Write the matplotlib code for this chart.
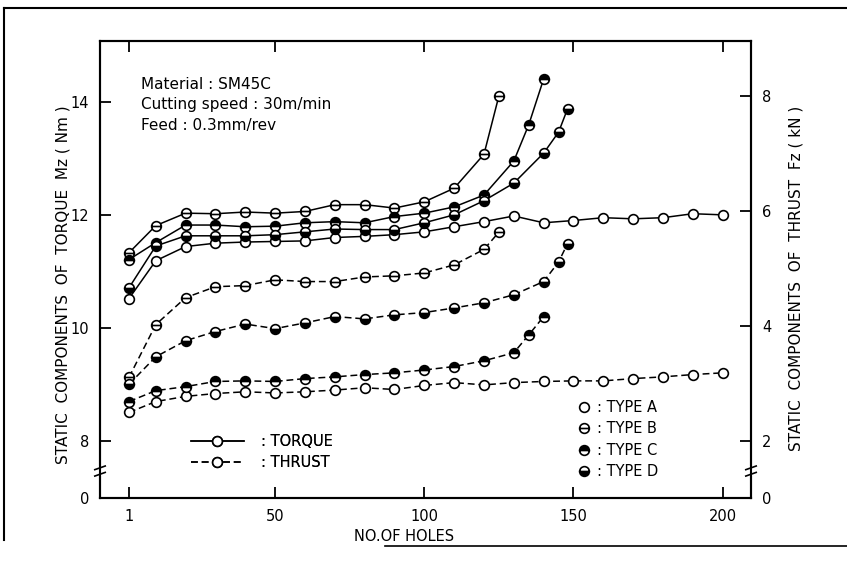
import matplotlib
matplotlib.use("Agg")
import matplotlib.pyplot as plt
from matplotlib.lines import Line2D
from matplotlib.path import Path

# number of holes for each tool type
holes_a = [1, 10, 20, 30, 40, 50, 60, 70, 80, 90, 100, 110, 120, 130, 140, 150, 160, 170, 180, 190, 200]
holes_b = [1, 10, 20, 30, 40, 50, 60, 70, 80, 90, 100, 110, 120, 125]
holes_c = [1, 10, 20, 30, 40, 50, 60, 70, 80, 90, 100, 110, 120, 130, 135, 140]
holes_d = [1, 10, 20, 30, 40, 50, 60, 70, 80, 90, 100, 110, 120, 130, 140, 145, 148]

# static torque Mz (Nm)
torque_a = [10.52, 11.19, 11.44, 11.50, 11.52, 11.53, 11.54, 11.60, 11.62, 11.65, 11.70,
            11.79, 11.88, 11.98, 11.86, 11.90, 11.95, 11.93, 11.95, 12.02, 12.00]
torque_b = [11.33, 11.81, 12.03, 12.02, 12.05, 12.03, 12.06, 12.18, 12.18, 12.12, 12.23,
            12.47, 13.07, 14.10]
torque_c = [11.21, 11.51, 11.82, 11.82, 11.79, 11.80, 11.86, 11.88, 11.86, 11.97, 12.03,
            12.14, 12.35, 12.95, 13.59, 14.40]
torque_d = [10.71, 11.45, 11.63, 11.63, 11.63, 11.65, 11.70, 11.75, 11.74, 11.74, 11.86,
            12.00, 12.25, 12.56, 13.09, 13.46, 13.87]

# static thrust Fz (kN)
thrust_a = [2.49, 2.68, 2.77, 2.82, 2.85, 2.83, 2.85, 2.88, 2.92, 2.89, 2.96, 3.01, 2.97,
            3.01, 3.03, 3.04, 3.04, 3.08, 3.11, 3.15, 3.18]
thrust_b = [3.10, 4.02, 4.49, 4.68, 4.70, 4.80, 4.77, 4.77, 4.85, 4.87, 4.92, 5.06, 5.33, 5.63]
thrust_c = [2.68, 2.87, 2.94, 3.03, 3.04, 3.03, 3.08, 3.11, 3.15, 3.18, 3.23, 3.29, 3.39,
            3.53, 3.84, 4.16]
thrust_d = [2.98, 3.46, 3.74, 3.90, 4.03, 3.95, 4.05, 4.16, 4.12, 4.19, 4.23, 4.31, 4.40,
            4.54, 4.77, 5.11, 5.43]

x_ticks = [1, 50, 100, 150, 200]
torque_ticks = [8, 10, 12, 14]
thrust_ticks = [2, 4, 6, 8]
type_labels = [": TYPE A", ": TYPE B", ": TYPE C", ": TYPE D"]

plt.rcParams["font.family"] = "DejaVu Sans"

# circle with a horizontal bar (type B)
bar_circle = Path.make_compound_path(
    Path.unit_circle(), Path([[-1.0, 0.0], [1.0, 0.0]], [Path.MOVETO, Path.LINETO]))

styles = {
    "A": dict(marker="o", markerfacecolor="white", fillstyle="full"),
    "B": dict(marker=bar_circle, markerfacecolor="white", fillstyle="full"),
    "C": dict(marker="o", fillstyle="top", markerfacecolor="black", markerfacecoloralt="white"),
    "D": dict(marker="o", fillstyle="bottom", markerfacecolor="black", markerfacecoloralt="white"),
}
mk = dict(color="black", markeredgecolor="black", markersize=7, markeredgewidth=1.2)
dash = (0, (4.5, 2.5))
lw = 1.1

fig = plt.figure(figsize=(8.47, 5.64), dpi=100)
ax = fig.add_axes([100 / 847, 66 / 564, 651 / 847, 457 / 564])
ax2 = ax.twinx()

ax.set_xlim(-8.7, 209.5)
ax.set_ylim(7.0, 15.07)
ax2.set_ylim(1.0, 8.96)

for key, xs, ys in [("A", holes_a, torque_a), ("B", holes_b, torque_b),
                    ("C", holes_c, torque_c), ("D", holes_d, torque_d)]:
    ax.plot(xs, ys, linestyle="-", linewidth=lw, **mk, **styles[key])

for key, xs, ys in [("A", holes_a, thrust_a), ("B", holes_b, thrust_b),
                    ("C", holes_c, thrust_c), ("D", holes_d, thrust_d)]:
    ax2.plot(xs, ys, linestyle=dash, linewidth=lw, **mk, **styles[key])

ax.set_xticks(x_ticks)
ax.set_yticks([7.0] + torque_ticks)
ax.set_yticklabels(["0"] + [str(t) for t in torque_ticks])
ax2.set_yticks([1.0] + thrust_ticks)
ax2.set_yticklabels(["0"] + [str(t) for t in thrust_ticks])

for a in (ax, ax2):
    a.tick_params(direction="in", length=8, width=1.3, labelsize=10.5, pad=8)
    for s in a.spines.values():
        s.set_linewidth(1.5)
ax.tick_params(axis="x", top=True)

ax.set_xlabel("NO.OF HOLES", fontsize=10.5)
ax.xaxis.set_label_coords(0.467, -0.067)
ax.set_ylabel("STATIC  COMPONENTS  OF  TORQUE  Mz ( Nm )", fontsize=11)
ax.yaxis.set_label_coords(-0.046, 0.466)
ax2.set_ylabel("STATIC  COMPONENTS  OF  THRUST  Fz ( kN )", fontsize=11)
ax2.yaxis.set_label_coords(1.058, 0.48)

# axis break marks
for xb in (0.0, 1.0):
    ax.plot([xb, xb], [0.052, 0.066], color="white", linewidth=3, transform=ax.transAxes,
            clip_on=False, zorder=5)
    for yb in (0.052, 0.066):
        ax.plot([xb - 0.008, xb + 0.008], [yb - 0.004, yb + 0.004], color="black",
                linewidth=1.2, transform=ax.transAxes, clip_on=False, zorder=6)

ax.text(0.063, 0.905, "Material : SM45C", transform=ax.transAxes, fontsize=11, va="center")
ax.text(0.063, 0.86, "Cutting speed : 30m/min", transform=ax.transAxes, fontsize=11, va="center")
ax.text(0.063, 0.815, "Feed : 0.3mm/rev", transform=ax.transAxes, fontsize=11, va="center")

line_handles = [
    Line2D([], [], linestyle="-", linewidth=lw, **mk, **styles["A"]),
    Line2D([], [], linestyle=dash, linewidth=lw, **mk, **styles["A"]),
]
leg1 = ax.legend(line_handles, [": TORQUE", ": THRUST"], loc="lower left",
                 bbox_to_anchor=(0.12, 0.032), frameon=False, fontsize=10.5,
                 handlelength=3.6, handletextpad=1.2, labelspacing=0.4)
ax.add_artist(leg1)

type_handles = [Line2D([], [], linestyle="none", **mk, **styles[k]) for k in "ABCD"]
ax2.legend(type_handles, type_labels, loc="lower left", bbox_to_anchor=(0.714, 0.012),
           frameon=False, fontsize=10.5, handlelength=0.8, handletextpad=0.5,
           labelspacing=0.45)

# scanned page frame
fig.add_artist(Line2D([4 / 847, 1.0], [1 - 8 / 564, 1 - 8 / 564], color="black", linewidth=1.5))
fig.add_artist(Line2D([4 / 847, 4 / 847], [1 - 8 / 564, 1 - 540 / 564], color="black", linewidth=1.5))
fig.add_artist(Line2D([385 / 847, 1.0], [1 - 546 / 564, 1 - 546 / 564], color="black", linewidth=1.2))

fig.savefig("out.png", dpi=100)
